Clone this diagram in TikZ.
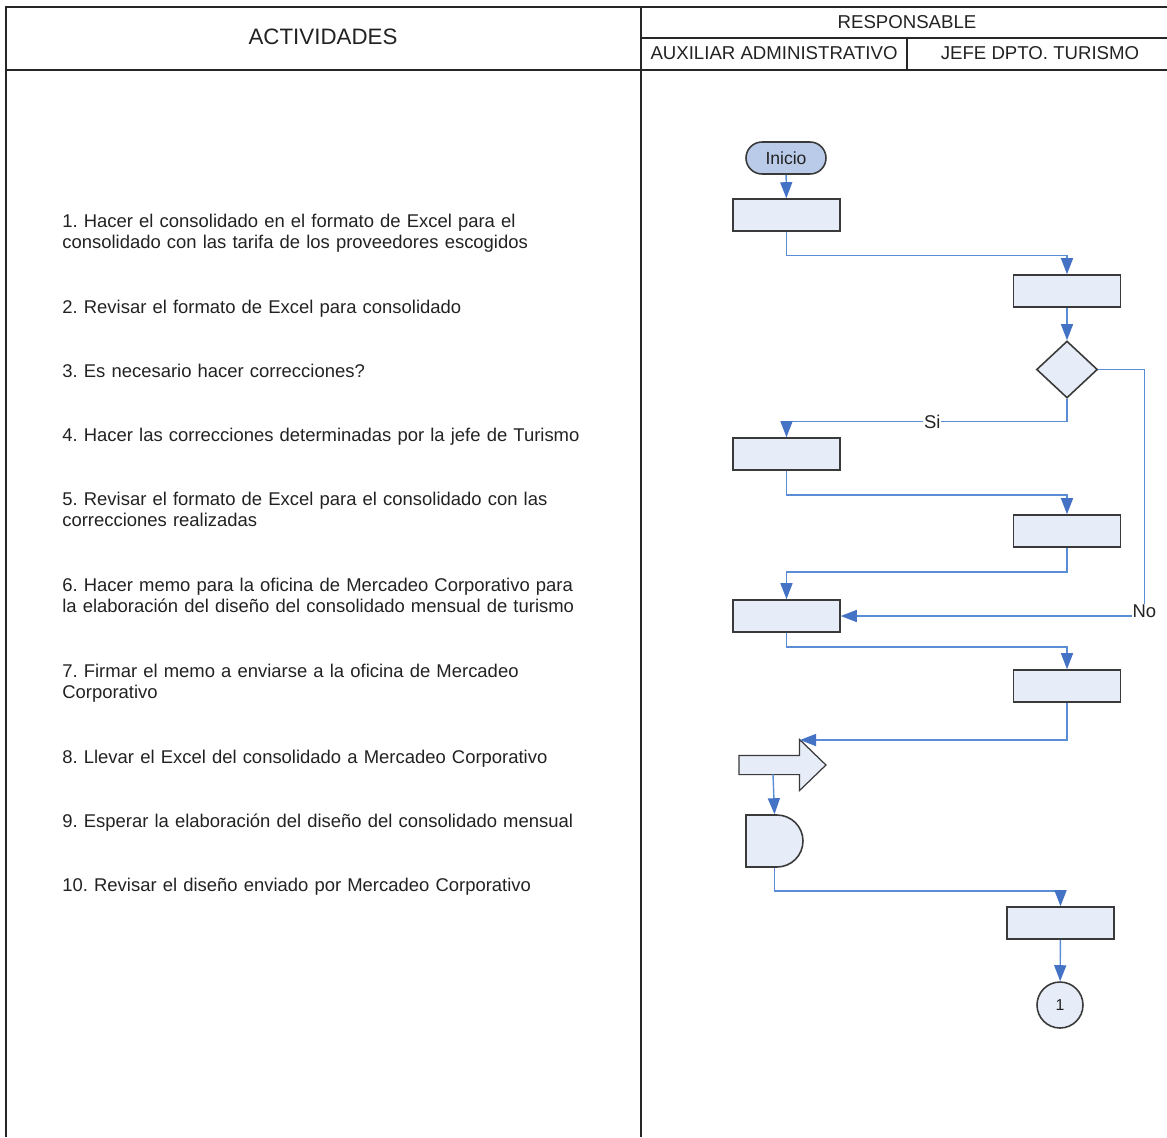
\documentclass[tikz,border=0pt]{standalone}
\usepackage{fontspec}
\setmainfont{Liberation Sans}
\frenchspacing
\usetikzlibrary{shapes.geometric,shapes.misc,shapes.arrows,arrows.meta}
\definecolor{ink}{HTML}{222222}
\definecolor{edge}{HTML}{3A3A3A}
\definecolor{boxfill}{HTML}{E7EDF8}
\definecolor{startfill}{HTML}{B9CBE8}
\definecolor{linkblue}{HTML}{5B8DD6}
\definecolor{tipblue}{HTML}{4472C4}
\tikzset{
  grid/.style={draw=black!85, line width=1.1pt},
  head/.style={text=ink, font=\fontsize{10.6}{12}\selectfont},
  item/.style={text=ink, font=\fontsize{10.5}{12.5}\selectfont, anchor=base west,
    inner sep=0pt, text width=11cm, align=left},
  proc/.style={draw=edge, line width=0.9pt, fill=boxfill, inner sep=0pt,
    minimum width=2.14cm, minimum height=0.64cm},
  term/.style={rounded rectangle, draw=edge, line width=0.9pt, fill=startfill,
    inner sep=0pt, minimum width=1.6cm, minimum height=0.64cm, text=ink,
    font=\fontsize{10}{12}\selectfont},
  dec/.style={diamond, draw=edge, line width=0.9pt, fill=boxfill, inner sep=0pt,
    minimum width=1.22cm, minimum height=1.14cm},
  delaybox/.style={rounded rectangle, rounded rectangle left arc=none, draw=edge,
    line width=0.9pt, fill=boxfill, inner sep=0pt, minimum width=1.14cm, minimum height=1.04cm},
  sendarrow/.style={single arrow, draw=edge, line width=0.7pt, fill=boxfill,
    inner xsep=0pt, inner ysep=0.18cm, minimum height=1.74cm,
    single arrow head extend=0.32cm, single arrow tip angle=88},
  conn/.style={circle, draw=edge, line width=0.9pt, fill=boxfill, inner sep=0pt,
    minimum size=0.92cm, text=ink, font=\fontsize{9}{10}\selectfont},
  flow/.style={draw=linkblue, line width=0.8pt, -{Triangle[length=3.2mm,width=2.4mm,color=tipblue]}},
  lbl/.style={fill=white, inner sep=0.5pt, text=ink, font=\fontsize{10.5}{12}\selectfont},
}
\begin{document}
\begin{tikzpicture}[x=0.02cm,y=-0.02cm]
  \useasboundingbox (0,0) rectangle (1167,1137);

  % table frame
  \draw[grid] (6,1137) -- (6,7) -- (1167,7);
  \draw[grid] (6,70) -- (1167,70);
  \draw[grid] (641,7) -- (641,1137);
  \draw[grid] (641,38) -- (1167,38);
  \draw[grid] (907,38) -- (907,70);

  \node[text=ink, font=\fontsize{12.7}{14}\selectfont] (hact) at (323,37) {ACTIVIDADES};
  \node[head] (hresp) at (907,22) {RESPONSABLE};
  \node[head] (haux) at (774,53) {AUXILIAR ADMINISTRATIVO};
  \node[head] (hjefe) at (1040,53) {JEFE DPTO. TURISMO};

  % activities
  \node[item] (a1) at (62,227) {1. Hacer el consolidado en el formato de Excel para el\\consolidado con las tarifa de los proveedores escogidos};
  \node[item] (a2) at (62,313) {2. Revisar el formato de Excel para consolidado};
  \node[item] (a3) at (62,377) {3. Es necesario hacer correcciones?};
  \node[item] (a4) at (62,441) {4. Hacer las correcciones determinadas por la jefe de Turismo};
  \node[item] (a5) at (62,505) {5. Revisar el formato de Excel para el consolidado con las\\correcciones realizadas};
  \node[item] (a6) at (62,591) {6. Hacer memo para la oficina de Mercadeo Corporativo para\\la elaboración del diseño del consolidado mensual de turismo};
  \node[item] (a7) at (62,677) {7. Firmar el memo a enviarse a la oficina de Mercadeo\\Corporativo};
  \node[item] (a8) at (62,763) {8. Llevar el Excel del consolidado a Mercadeo Corporativo};
  \node[item] (a9) at (62,827) {9. Esperar la elaboración del diseño del consolidado mensual};
  \node[item] (a10) at (62,891) {10. Revisar el diseño enviado por Mercadeo Corporativo};

  % flow symbols
  \node[term] (start) at (786,158) {Inicio};
  \node[proc] (b1) at (786.5,215) {};
  \node[proc] (b2) at (1067,291) {};
  \node[dec] (q) at (1067,369.5) {};
  \node[proc] (b3) at (786.5,454) {};
  \node[proc] (b4) at (1067,531) {};
  \node[proc] (b5) at (786.5,616) {};
  \node[proc] (b6) at (1067,686) {};
  \node[sendarrow] (send) at (777.5,765) {};
  \coordinate (sendtop) at (800,740);
  \coordinate (sendfoot) at (773,774);
  \node[delaybox] (wait) at (774.5,841) {};
  \node[proc] (b7) at (1060.5,923) {};
  \node[conn] (c1) at (1060,1005) {1};

  % connectors
  \draw[flow] (start) -- (b1);
  \draw[flow] (b1.south) -- ++(0,24) -| (b2.north);
  \draw[flow] (b2) -- (q);
  \draw[flow] (q.south) -- ++(0,23) -| node[lbl, pos=0.24] {Si} (b3.north);
  \draw[flow] (q.east) -- ++(46,0) |- node[lbl, pos=0.49] {No} (b5.east);
  \draw[flow] (b3.south) -- ++(0,24) -| (b4.north);
  \draw[flow] (b4.south) -- ++(0,24) -| (b5.north);
  \draw[flow] (b5.south) -- ++(0,14) -| (b6.north);
  \draw[flow] (b6.south) |- (sendtop);
  \draw[flow] (sendfoot) -- (wait.north);
  \draw[flow] (wait.south) -- ++(0,23) -| (b7.north);
  \draw[flow] (b7) -- (c1);
\end{tikzpicture}
\end{document}
